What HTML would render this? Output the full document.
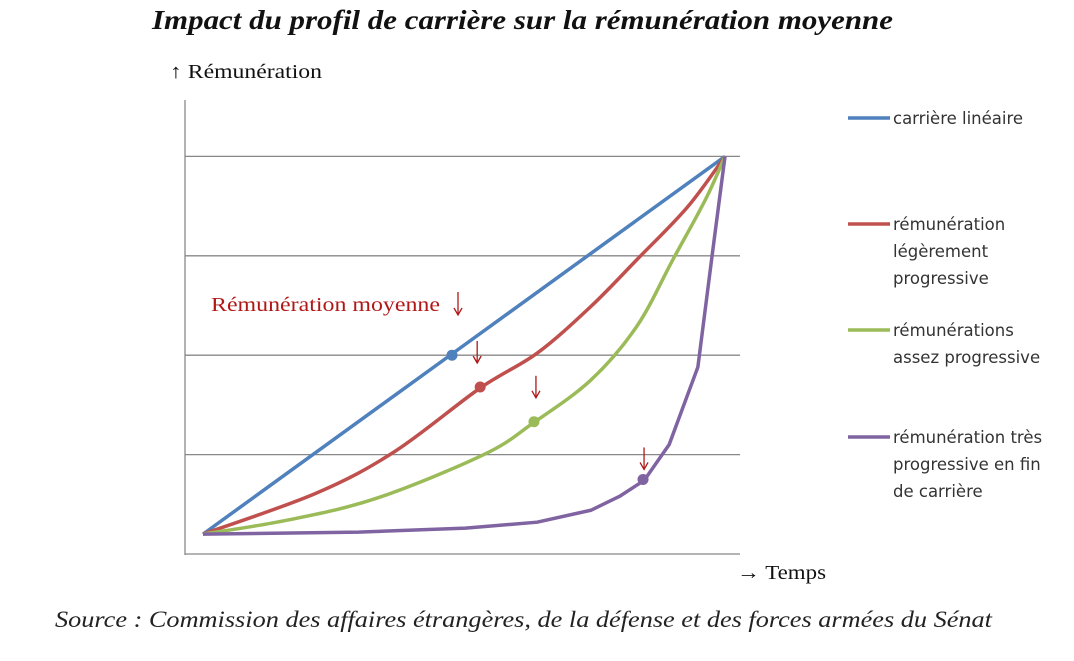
<!DOCTYPE html>
<html><head><meta charset="utf-8"><style>
body{margin:0;background:#fff;width:1074px;height:656px;overflow:hidden}
svg text{font-family:"Liberation Serif",serif}
.lg{font-family:"DejaVu Sans","Liberation Sans",sans-serif;font-size:16.5px;fill:#333}
</style></head><body>
<svg id="c" width="1074" height="656">
<text x="152" y="29" font-size="27" font-style="italic" font-weight="bold" fill="#111" textLength="741" lengthAdjust="spacingAndGlyphs">Impact du profil de carrière sur la rémunération moyenne</text>
<text x="170" y="78" font-size="20" fill="#111" textLength="152" lengthAdjust="spacingAndGlyphs">↑ Rémunération</text>
<text x="737" y="579" font-size="20" fill="#111" textLength="89" lengthAdjust="spacingAndGlyphs">→ Temps</text>
<text x="55" y="627" font-size="23" font-style="italic" fill="#222" textLength="937" lengthAdjust="spacingAndGlyphs">Source : Commission des affaires étrangères, de la défense et des forces armées du Sénat</text>
<text x="211" y="311" font-size="20" fill="#b01818" textLength="229" lengthAdjust="spacingAndGlyphs">Rémunération moyenne</text>
<g id="grid"></g><g id="lines"></g><g id="marks"></g>
<g>
<line x1="848" y1="118" x2="890" y2="118" stroke="#4f81bd" stroke-width="3.5"/>
<text class="lg" x="893" y="124">carrière linéaire</text>
<line x1="848" y1="224" x2="890" y2="224" stroke="#c0504d" stroke-width="3.5"/>
<text class="lg" x="893" y="230">rémunération<tspan x="893" dy="27">légèrement</tspan><tspan x="893" dy="27">progressive</tspan></text>
<line x1="848" y1="330" x2="890" y2="330" stroke="#9bbb59" stroke-width="3.5"/>
<text class="lg" x="893" y="336">rémunérations<tspan x="893" dy="27">assez progressive</tspan></text>
<line x1="848" y1="437" x2="890" y2="437" stroke="#8064a2" stroke-width="3.5"/>
<text class="lg" x="893" y="443">rémunération très<tspan x="893" dy="27">progressive en fin</tspan><tspan x="893" dy="27">de carrière</tspan></text>
</g>
</svg>
<script>
const gridVals=[0,1,2,3,4];
const blueX=[0,10], blueY=[0.2,4];
const redX=[0,2.16,3.67,5.31,6.40,7.43,8.31,9.28,10];
const redY=[0.2,0.61,1.03,1.67,2.02,2.49,2.96,3.49,4];
const greenX=[0,1.61,3.32,5.38,6.33,7.43,8.31,9.00,9.62,10];
const greenY=[0.2,0.34,0.56,1.0,1.32,1.75,2.29,2.96,3.56,4];
const purpleX=[0,2.98,5.03,6.40,7.43,7.98,8.45,8.93,9.48,9.75,10];
const purpleY=[0.2,0.22,0.26,0.32,0.44,0.58,0.74,1.10,1.88,2.99,4];
const avgX=[4.77,5.31,6.34,8.43];
const avgY=[2.0,1.68,1.33,0.75];
const colors=['#4f81bd','#c0504d','#9bbb59','#8064a2'];
const sx=v=>203+52.2*v, sy=v=>554-99.4*v;
const NS='http://www.w3.org/2000/svg';
function mk(t,p,a){const e=document.createElementNS(NS,t);for(const k in a)e.setAttribute(k,a[k]);p.appendChild(e);return e;}
const grid=document.getElementById('grid');
gridVals.forEach(v=>{const l=mk('line',grid,{x1:185,x2:740,y1:sy(v),y2:sy(v),stroke:'#888','stroke-width':1.3});

});
const ax=mk('line',grid,{x1:185,x2:185,y1:100,y2:555,stroke:'#888','stroke-width':1.3});


function smooth(P){let d='M'+P[0][0]+','+P[0][1];
for(let i=0;i<P.length-1;i++){const p0=P[i-1]||P[i],p1=P[i],p2=P[i+1],p3=P[i+2]||p2;
d+=' C'+(p1[0]+(p2[0]-p0[0])/6)+','+(p1[1]+(p2[1]-p0[1])/6)+' '+(p2[0]-(p3[0]-p1[0])/6)+','+(p2[1]-(p3[1]-p1[1])/6)+' '+p2[0]+','+p2[1];}
return d;}
const lines=document.getElementById('lines');
const series=[[blueX,blueY],[redX,redY],[greenX,greenY],[purpleX,purpleY]];
const names=['line-linear','line-slight','line-fairly','line-very'];
series.forEach((s,i)=>{const P=s[0].map((x,j)=>[sx(x),sy(s[1][j])]);
const p=mk('path',lines,{d:i==3?'M'+P.map(q=>q.join(',')).join(' L'):smooth(P),fill:'none',stroke:colors[i],'stroke-width':3.5,'stroke-linejoin':'round'});

});
const marks=document.getElementById('marks');
function arrow(x,y1,y2,name){const g=mk('g',marks,{stroke:'#b01818','stroke-width':1.3,fill:'none'});
mk('line',g,{x1:x,x2:x,y1:y1,y2:y2});
mk('path',g,{d:'M'+(x-4)+','+(y2-7)+' L'+x+','+y2+' L'+(x+4)+','+(y2-7)});

}
const arrowOff=[0,-24,-24,-10];
avgX.forEach((x,i)=>{const c=mk('circle',marks,{cx:sx(x),cy:sy(avgY[i]),r:5.5,fill:colors[i]});


if(i>0){const yb=sy(avgY[i])+arrowOff[i];arrow(sx(x)-(i==1?3:-2)+(i==3?-1:0),yb-22,yb,'average-arrow');}});
arrow(458,292,315,'label-arrow');
</script>
</body></html>
